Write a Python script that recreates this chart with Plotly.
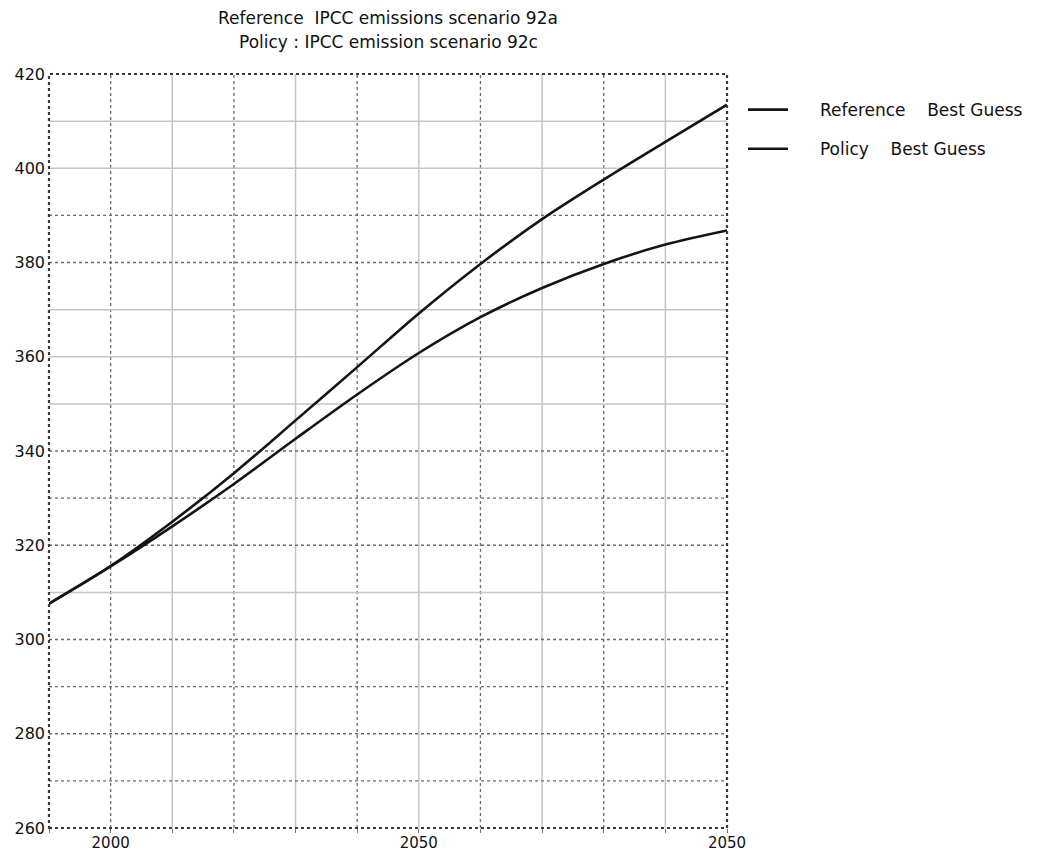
import plotly.graph_objects as go

# Atmospheric concentration, best-guess paths per decade
years = [1990, 2000, 2010, 2020, 2030, 2040, 2050, 2060, 2070, 2080, 2090, 2100]
reference_best = [307.6, 315.6, 325.0, 335.3, 346.5, 357.8, 369.2, 379.7, 389.2, 397.6, 405.6, 413.5]
policy_best = [307.6, 315.5, 324.0, 333.0, 342.6, 352.0, 360.8, 368.4, 374.6, 379.7, 383.8, 386.8]

series_names = ["Reference    Best Guess", "Policy    Best Guess"]
title_lines = ["Reference  IPCC emissions scenario 92a", "Policy : IPCC emission scenario 92c"]

x_tickvals = [2000, 2050, 2100]
x_ticktext = ["2000", "2050", "2050"]
y_tickvals = [260, 280, 300, 320, 340, 360, 380, 400, 420]

# grid: some lines solid light grey, others dotted dark
x_grid_solid = [2010, 2030, 2050, 2070, 2090]
x_grid_dotted = [2000, 2020, 2040, 2060, 2080]
y_grid_solid = [310, 350, 360, 370, 400, 410]
y_grid_dotted = [270, 280, 290, 300, 320, 330, 340, 380, 390]

X_RANGE = [1990, 2100]
Y_RANGE = [260, 420]
FONT = "DejaVu Sans"
TEXT = "#111111"
PAD = "\u00a0" * 5


def nbsp(s):
    return s.replace(" ", "\u00a0")


fig = go.Figure()
for name, vals in zip(series_names, [reference_best, policy_best]):
    fig.add_trace(go.Scatter(
        x=years, y=vals, mode="lines", name=PAD + nbsp(name),
        legendgroup=name,
        line=dict(color="#141414", width=2.6, shape="spline", smoothing=0.9),
    ))

shapes = []
for v in x_grid_solid:
    shapes.append(dict(type="line", xref="x", yref="y", x0=v, x1=v, y0=Y_RANGE[0], y1=Y_RANGE[1],
                       line=dict(color="#c4c4c4", width=1.5), layer="below"))
for v in x_grid_dotted:
    shapes.append(dict(type="line", xref="x", yref="y", x0=v, x1=v, y0=Y_RANGE[0], y1=Y_RANGE[1],
                       line=dict(color="#6a6a6a", width=1.3, dash="dot"), layer="below"))
for v in y_grid_solid:
    shapes.append(dict(type="line", xref="x", yref="y", x0=X_RANGE[0], x1=X_RANGE[1], y0=v, y1=v,
                       line=dict(color="#c4c4c4", width=1.5), layer="below"))
for v in y_grid_dotted:
    shapes.append(dict(type="line", xref="x", yref="y", x0=X_RANGE[0], x1=X_RANGE[1], y0=v, y1=v,
                       line=dict(color="#6a6a6a", width=1.3, dash="dot"), layer="below"))
# plot frame
shapes.append(dict(type="rect", xref="paper", yref="paper", x0=0, x1=1, y0=0, y1=1,
                   line=dict(color="#3a3a3a", width=2.2, dash="dot"), layer="above"))

# two title lines, centred over the plot area
annotations = []
for text, ypos in zip(title_lines, [1.0743, 1.0424]):
    annotations.append(dict(text=text, xref="paper", yref="paper", x=0.5, y=ypos,
                            xanchor="center", yanchor="middle", showarrow=False,
                            font=dict(family=FONT, size=17, color=TEXT)))

fig.update_layout(
    width=1039, height=853,
    margin=dict(l=49, r=311, t=74, b=25),
    paper_bgcolor="white", plot_bgcolor="white",
    font=dict(family=FONT, size=16, color=TEXT),
    shapes=shapes,
    annotations=annotations,
    showlegend=True,
    legend=dict(x=1.022, y=0.976, xanchor="left", yanchor="top", bgcolor="rgba(0,0,0,0)",
                font=dict(family=FONT, size=17, color=TEXT), tracegroupgap=14,
                itemwidth=40),
)
fig.update_xaxes(
    range=X_RANGE, tickmode="array", tickvals=x_tickvals, ticktext=x_ticktext,
    showgrid=False, zeroline=False, showline=False, automargin=False,
    ticks="outside", ticklen=1, tickcolor="#777",
    minor=dict(tickmode="linear", tick0=1990, dtick=10, ticks="outside", ticklen=4, tickcolor="#777", showgrid=False),
    ticklabelstandoff=0,
    tickfont=dict(family=FONT, size=15, color=TEXT),
)
fig.update_yaxes(
    range=Y_RANGE, tickmode="array", tickvals=y_tickvals,
    showgrid=False, zeroline=False, showline=False, ticks="", automargin=False,
    ticklabelstandoff=3,
    tickfont=dict(family=FONT, size=16, color=TEXT),
)

fig.write_html("out.html")
